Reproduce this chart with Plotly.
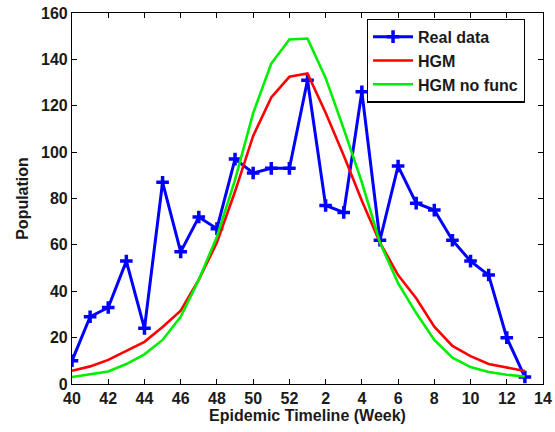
import plotly.graph_objects as go

weeks = [40, 41, 42, 43, 44, 45, 46, 47, 48, 49, 50, 51, 52,
         1, 2, 3, 4, 5, 6, 7, 8, 9, 10, 11, 12, 13]
real_data = [10, 29, 33, 53, 24, 87, 57, 72, 67, 97, 91, 93, 93,
             131, 77, 74, 126, 62, 94, 78, 75, 62, 53, 47, 20, 3]
hgm = [5.7, 7.6, 10.4, 14.3, 18.2, 24.6, 31.6, 45, 61, 83, 107, 123.6, 132.5,
       133.9, 117, 98.5, 79, 61, 47, 37, 24.7, 16.4, 12, 8.6, 7.2, 5.6]
hgm_nofunc = [3, 4.2, 5.4, 8.6, 12.8, 19, 29, 45, 63.5, 88, 116.8, 138.2, 148.6,
              149, 132, 110, 87, 61, 43.5, 30.6, 19, 11.4, 7.3, 5.2, 4, 3.2]
tick_labels = ["40", "42", "44", "46", "48", "50", "52", "2", "4", "6", "8", "10", "12", "14"]

x = list(range(len(weeks)))
tick_pos = list(range(0, 2 * len(tick_labels), 2))

font_family = "Liberation Sans, Arial, sans-serif"
txt = "#1a1a1a"

fig = go.Figure()
fig.add_trace(go.Scatter(
    x=x, y=real_data, name="Real data", mode="lines+markers",
    line=dict(color="#0000ff", width=3),
    marker=dict(symbol="cross-thin-open", size=9, color="#0000ff",
                line=dict(color="#0000ff", width=3.5)),
))
fig.add_trace(go.Scatter(
    x=x, y=hgm, name="HGM", mode="lines",
    line=dict(color="#ff0000", width=2.6),
))
fig.add_trace(go.Scatter(
    x=x, y=hgm_nofunc, name="HGM no func", mode="lines",
    line=dict(color="#00ee00", width=2.6),
))

axis_common = dict(
    showline=True, linecolor="black", linewidth=1.2, mirror="allticks",
    ticks="inside", ticklen=5, tickcolor="black", tickwidth=1.2,
    showgrid=False, zeroline=False, automargin=False,
    ticklabeloverflow="allow",
    tickfont=dict(family=font_family, size=16, color=txt, weight="bold"),
)

fig.update_layout(
    width=555, height=432,
    margin=dict(l=72, r=12, t=13, b=48),
    paper_bgcolor="white", plot_bgcolor="white",
    font=dict(family=font_family, size=16, color=txt, weight="bold"),
    xaxis=dict(range=[0, 26], tickvals=tick_pos, ticktext=tick_labels,
               title=dict(text="Epidemic Timeline (Week)", standoff=0,
                          font=dict(family=font_family, size=16, color=txt, weight="bold")),
               **axis_common),
    yaxis=dict(range=[0, 160], tickvals=list(range(0, 161, 20)),
               title=dict(text="Population", standoff=8,
                          font=dict(family=font_family, size=16, color=txt, weight="bold")),
               **axis_common),
    legend=dict(x=0.626, y=0.985, xanchor="left", yanchor="top",
                bgcolor="white", bordercolor="black", borderwidth=1.2,
                font=dict(family=font_family, size=16, color=txt, weight="bold"),
                tracegroupgap=0, itemwidth=40),
    showlegend=True,
)

# remove the default page margin so the 555x432 figure fills the window exactly
fig.write_html("out.html",
               config={"displayModeBar": False},
               post_script="document.body.style.margin='0px';document.body.style.overflow='hidden';")
